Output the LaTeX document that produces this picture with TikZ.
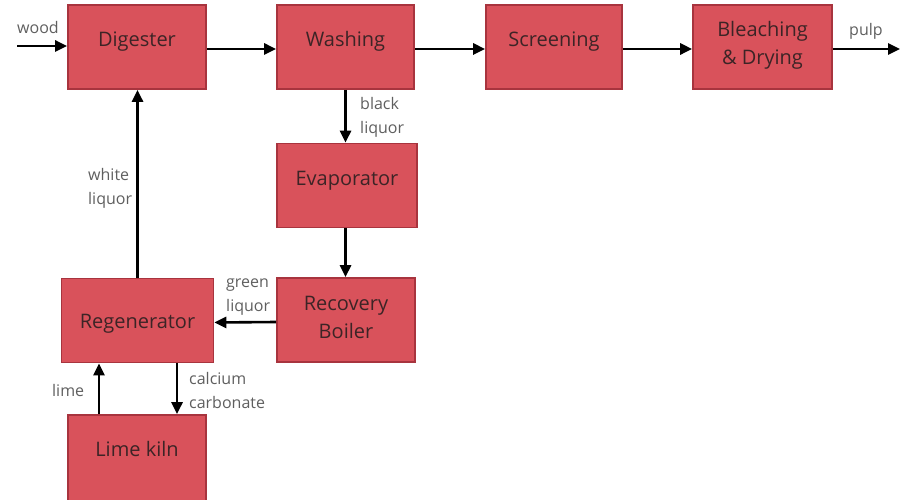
\documentclass[tikz,border=0pt]{standalone}
\usepackage{fontspec}
\setmainfont{Open Sans}
\usetikzlibrary{arrows.meta}
\definecolor{boxfill}{RGB}{217,82,91}
\definecolor{boxline}{RGB}{168,52,62}
\definecolor{boxtext}{RGB}{60,36,38}
\definecolor{labeltext}{RGB}{95,95,95}
\tikzset{
  proc/.style={draw=boxline, line width=1.6pt, fill=boxfill,
    minimum height=84pt, inner sep=0pt},
  ptext/.style={text=boxtext, inner sep=0pt, align=center,
    font=\fontsize{20}{28}\selectfont},
  lbl/.style={text=labeltext, inner sep=0pt, align=left,
    font=\fontsize{16}{24}\selectfont},
  flow/.style={line width=2.6pt, -{Triangle[length=12pt,width=11pt]}}
}
\begin{document}
\begin{tikzpicture}[x=1pt,y=-1pt]
\useasboundingbox (0,0) rectangle (900,500);
% boxes
\node[proc, minimum width=138pt] (dig) at (137,47) {};
\node[proc, minimum width=137pt] (was) at (345.5,47) {};
\node[proc, minimum width=136pt] (scr) at (554,47) {};
\node[proc, minimum width=139pt] (ble) at (762.5,47) {};
\node[proc, minimum width=140pt] (eva) at (347,185.5) {};
\node[proc, minimum width=138pt] (rec) at (346,320) {};
\node[proc, minimum width=152pt] (reg) at (137.5,320.5) {};
\node[proc, minimum width=138pt, minimum height=94pt] (kiln) at (137,462) {};
% box texts
\node[ptext] (digt) at (137,42) {Digester};
\node[ptext] (wast) at (345.5,41) {Washing};
\node[ptext] (scrt) at (554,41.5) {Screening};
\node[ptext] (blet) at (762.5,45) {Bleaching\\\& Drying};
\node[ptext] (evat) at (347,181) {Evaporator};
\node[ptext] (rect) at (346,317.5) {Recovery\\Boiler};
\node[ptext] (regt) at (137.5,324) {Regenerator};
\node[ptext] (kilnt) at (137,449) {Lime kiln};
% free ends
\coordinate (win) at (17,46);
\coordinate (pout) at (900,49);
% connectors
\draw[flow] (win) -- (dig.west |- win);
\draw[flow] ([yshift=-2pt]dig.east) -- ([yshift=-2pt]was.west);
\draw[flow] ([yshift=-2pt]was.east) -- ([yshift=-2pt]scr.west);
\draw[flow] ([yshift=-2pt]scr.east) -- ([yshift=-2pt]ble.west);
\draw[flow] (ble.east |- pout) -- (pout);
\draw[flow] (was.south) -- (was.south |- eva.north);
\draw[flow] (was.south |- eva.south) -- (was.south |- rec.north);
\draw[flow] ([yshift=-2pt]rec.west) -- ([yshift=-2pt]reg.east);
\draw[flow] (reg.north) -- (reg.north |- dig.south);
\draw[flow] ([xshift=-38pt]kiln.north) -- ([xshift=-38pt]kiln.north |- reg.south);
\draw[flow] ([xshift=40pt]kiln.north |- reg.south) -- ([xshift=40pt]kiln.north);
% labels
\node[lbl, anchor=west] (lwood) at (17,28) {wood};
\node[lbl, anchor=west] (lpulp) at (849,31) {pulp};
\node[lbl, anchor=west] (lblack) at (360,117.5) {black\\liquor};
\node[lbl, anchor=west] (lwhite) at (88,188.5) {white\\liquor};
\node[lbl, anchor=west] (lgreen) at (226,297.5) {green\\liquor};
\node[lbl, anchor=west] (llime) at (52,390) {lime};
\node[lbl, anchor=west] (lcalc) at (189,390) {calcium\\carbonate};
\end{tikzpicture}
\end{document}
